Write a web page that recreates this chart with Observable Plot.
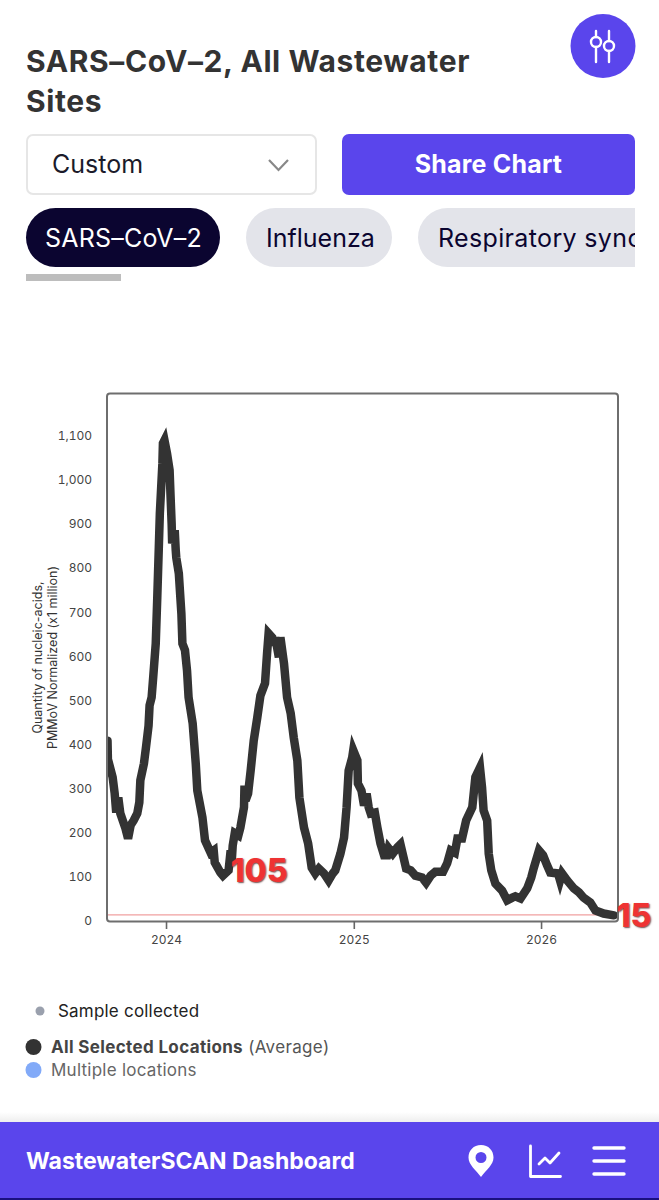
<!DOCTYPE html>
<html><head><meta charset="utf-8">
<script src="https://cdn.jsdelivr.net/npm/d3@7"></script>
<script src="https://cdn.jsdelivr.net/npm/@observablehq/plot@0.6"></script>
<style>
html,body{margin:0;padding:0;background:#fff}
body{position:relative;width:659px;height:1200px;overflow:hidden;font-family:Inter,"Noto Sans",sans-serif;color:#333}
.t{position:absolute;white-space:nowrap;line-height:1}
.box{position:absolute;box-sizing:border-box}
#chart{position:absolute;left:0;top:370px}
#chart svg{display:block;overflow:visible}
.note text{text-shadow:1px 1px 1.5px rgba(70,20,20,.75)}
</style></head><body>
<div class="t" style="left:26px;top:46px;font-size:30px;font-weight:700;color:#333;letter-spacing:.6px">SARS–CoV–2, All Wastewater</div>
<div class="t" style="left:26px;top:86px;font-size:30px;font-weight:700;color:#333;letter-spacing:.6px">Sites</div>
<svg class="box" style="left:570px;top:14px" width="66" height="64" viewBox="0 0 66 64">
<ellipse cx="33" cy="32" rx="32.5" ry="32" fill="#5a45ec"/>
<g stroke="#fff" stroke-width="2.4" fill="none" stroke-linecap="round"><path d="M26 17V23M26 33V48M39 17V27M39 37V48"/><circle cx="26" cy="28" r="5"/><circle cx="39" cy="32" r="5"/></g></svg>
<div class="box" style="left:26px;top:134px;width:291px;height:61px;border:2px solid #e6e6e6;border-radius:7px"></div>
<div class="t" style="left:52px;top:152px;font-size:25px;color:#1b1b2a">Custom</div>
<svg class="box" style="left:267px;top:157px" width="24" height="16"><path d="M2 3L11.5 13L21 3" fill="none" stroke="#888" stroke-width="2.2"/></svg>
<div class="box" style="left:342px;top:134px;width:293px;height:61px;background:#5a45ec;border-radius:7px"></div>
<div class="t" style="left:342px;width:293px;text-align:center;top:152px;font-size:25px;font-weight:700;color:#fff;letter-spacing:.2px">Share Chart</div>
<div class="box" style="left:26px;top:208px;width:194px;height:59px;background:#0b0530;border-radius:30px"></div>
<div class="t" style="left:45px;top:226px;font-size:25px;color:#fff;letter-spacing:.2px">SARS–CoV–2</div>
<div class="box" style="left:246px;top:208px;width:146px;height:59px;background:#e3e4ea;border-radius:30px"></div>
<div class="t" style="left:266px;top:226px;font-size:25px;color:#0b0530">Influenza</div>
<div class="box" style="left:418px;top:208px;width:217px;height:59px;background:#e3e4ea;border-radius:30px 0 0 30px;overflow:hidden"><div class="t" style="left:20px;top:18px;font-size:25px;color:#0b0530;letter-spacing:.35px">Respiratory sync</div></div>
<div class="box" style="left:26px;top:274px;width:95px;height:7px;background:#bdbdbd"></div>
<div id="chart"></div>
<svg class="box" style="left:0;top:1000px" width="60" height="85"><circle cx="40" cy="11" r="4.5" fill="#9aa0ad"/><circle cx="33.5" cy="47" r="8" fill="#333"/><circle cx="33.5" cy="70" r="8" fill="#82aaf8"/></svg>
<div class="t" style="left:58px;top:1003px;font-size:17px;color:#222;letter-spacing:.2px">Sample collected</div>
<div class="t" style="left:51px;top:1039px;font-size:17px;color:#555;letter-spacing:.35px"><b style="color:#444">All Selected Locations</b> (Average)</div>
<div class="t" style="left:51px;top:1062px;font-size:17px;color:#666;letter-spacing:.25px">Multiple locations</div>
<div class="box" style="left:0;top:1112px;width:659px;height:10px;background:linear-gradient(#fff,#eee)"></div>
<div class="box" style="left:0;top:1122px;width:659px;height:78px;background:#5a45ec;border-bottom:2px solid #1a1080"></div>
<div class="t" style="left:26px;top:1150px;font-size:23px;font-weight:700;color:#fff">WastewaterSCAN Dashboard</div>
<svg class="box" style="left:460px;top:1140px" width="180" height="46" viewBox="0 0 180 46">
<path fill="#fff" fill-rule="evenodd" d="M21 5C13.500 5 8.500 10.500 8.500 17.500C8.500 25 16 30 21 37C26 30 33.500 25 33.500 17.500C33.500 10.500 28.500 5 21 5ZM21 12A5.500 5.500 0 1 1 21 23A5.500 5.500 0 1 1 21 12Z"/>
<g fill="none" stroke="#fff" stroke-width="2.8" stroke-linecap="round" stroke-linejoin="round"><path d="M70.500 6V36.500H100.500"/><path d="M79 24L85 18L90 23L99 13"/></g>
<g stroke="#fff" stroke-width="3.4" stroke-linecap="round"><path d="M134 8H164M134 21H164M134 34H164"/></g></svg>
<script>
const start = "2024-01-01";
const days = [
-115,-114,-112,-105,-101,-98,-94,-90,-80,-75,
-70,-64,-57,-53,-51,-44,-40,-35,-33,-29,
-26,-21,-18,-15,-13,-8,-7,-4,1,6,
8,10,11,16,18,19,24,29,31,36,
40,43,51,57,60,70,75,86,92,94,
105,110,121,125,127,129,133,140,144,151,
152,154,159,164,170,177,183,192,196,199,
206,209,212,219,222,229,235,242,248,255,
259,268,276,283,290,297,307,316,324,329,
339,346,351,355,362,364,372,373,380,385,
390,394,398,406,411,417,424,430,433,441,
450,456,462,467,476,485,498,506,515,524,
539,547,554,562,567,576,584,596,602,611,
615,618,625,628,633,641,654,664,674,680,
690,703,711,716,726,734,742,748,763,767,
771,781,794,804,813,826,836,852,872];
const values = [
410,354,358,327,290,247,281,245,211,188,
218,229,245,270,320,358,395,444,490,508,
553,630,735,848,925,1039,1084,1091,1061,1023,
961,902,857,887,841,825,789,698,630,615,
569,508,449,358,297,236,184,156,161,134,
111,104,116,161,134,172,200,195,213,259,
308,274,290,342,410,463,512,540,608,653,
644,626,644,599,644,585,508,472,417,365,
281,213,177,122,109,120,109,93,109,116,
154,190,259,342,372,388,365,313,297,263,
290,259,245,247,213,177,150,150,166,154,
168,175,145,120,116,104,100,88,104,113,
113,132,161,156,188,188,229,259,327,349,
304,252,229,154,116,86,70,48,54,57,
52,75,100,122,161,150,127,111,109,93,
109,93,75,66,54,43,25,18,14];
const yTicks = [0,100,200,300,400,500,600,700,800,900,1000,1100];
const xTicks = ["2024-01-01","2025-01-01","2026-01-01"];
const yLabelLines = ["Quantity of nucleic-acids,","PMMoV Normalized (x1 million)"];
const baseline = 15;
const noteA = {day:111,value:105,label:"105"};
const noteB = {day:871,value:15,label:"15"};

const toDate = n => d3.utcDay.offset(new Date(start+"T00:00:00Z"), n);
const rows = days.map((d,i)=>({date:toDate(d),value:values[i]}));
const font = 'Inter,"Noto Sans",sans-serif';
const noteOpts = {x:d=>toDate(d.day),y:"value",text:"label",fontSize:32,fontWeight:800,fill:"#ee3333",className:"note",textAnchor:"start"};
const plot = Plot.plot({
  width:659,height:600,marginLeft:106.5,marginRight:41.5,marginTop:23,marginBottom:49,
  style:{fontFamily:font,overflow:"visible",background:"transparent"},
  x:{type:"utc",domain:[new Date("2023-09-07"),new Date("2026-05-30")]},
  y:{domain:[0,1197]},
  marks:[
    Plot.ruleY([baseline],{stroke:"#f0a0a0",strokeWidth:1.4}),
    Plot.line(rows,{x:"date",y:"value",stroke:"#333",strokeWidth:8.5,strokeLinejoin:"miter",strokeMiterlimit:4,clip:"frame"}),
    Plot.frame({stroke:"#6e6e6e",strokeWidth:2,rx:3}),
    Plot.axisY({ticks:yTicks,tickSize:0,tickPadding:15,label:null,tickFormat:d3.format(","),fontSize:12,fill:"#444",anchor:"left"}),
    Plot.axisX({ticks:xTicks.map(s=>new Date(s)),tickFormat:d3.utcFormat("%Y"),label:null,tickSize:8,tickPadding:6,fontSize:12,fill:"#444",stroke:"#666",strokeWidth:1.6}),
    Plot.text([yLabelLines[0]],{frameAnchor:"left",textAnchor:"middle",rotate:-90,dx:-69.5,fontSize:12.5,fill:"#333"}),
    Plot.text([yLabelLines[1]],{frameAnchor:"left",textAnchor:"middle",rotate:-90,dx:-54.5,fontSize:12.5,fill:"#333"}),
    Plot.text([noteA],{...noteOpts,dx:7,dy:-3}),
    Plot.text([noteB],{...noteOpts,dx:3,dy:2})
  ]
});
document.getElementById("chart").append(plot);
</script>
</body></html>
